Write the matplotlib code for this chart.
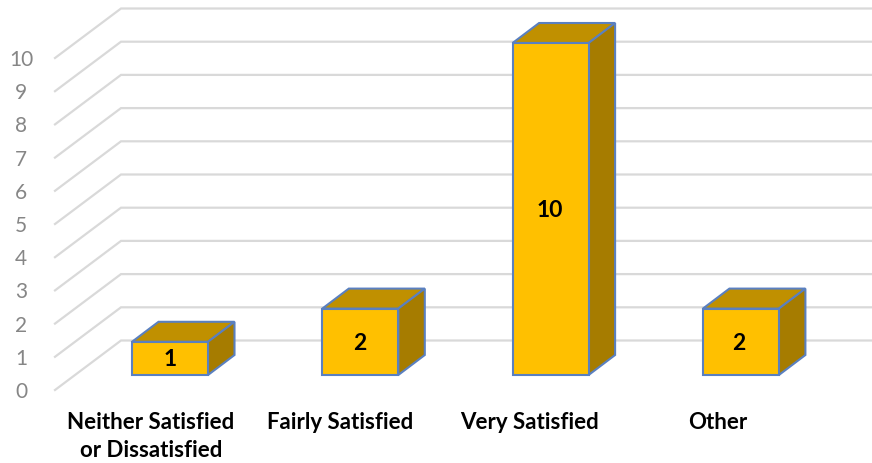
import matplotlib.pyplot as plt

plt.rcParams['font.family'] = ['Lato', 'DejaVu Sans']

categories = ['Neither Satisfied\nor Dissatisfied', 'Fairly Satisfied', 'Very Satisfied', 'Other']
values = [1, 2, 10, 2]
y_ticks = [0, 1, 2, 3, 4, 5, 6, 7, 8, 9, 10]

W, H = 872, 463
px_x = 190.3   # pixels per category
px_y = 33.2    # pixels per value unit
bar_w = 76 / px_x
depth_x = 26.5 / px_x
depth_y = 20 / px_y

fig = plt.figure(figsize=(W / 100, H / 100), dpi=100)
ax = fig.add_axes([0, 0, 1, 1])
ax.set_xlim(-170 / px_x, (W - 170) / px_x)
ax.set_ylim((375 - H) / px_y, 375 / px_y)
ax.axis('off')

# left wall + back wall gridlines
wall_left = -115 / px_x
wall_back = -49 / px_x
for v in y_ticks:
    ax.plot([wall_left, wall_back, (W - 170) / px_x], [v - 15 / px_y, v + 34.5 / px_y, v + 34.5 / px_y],
            color='#d9d9d9', lw=1.6, solid_joinstyle='miter', zorder=1)
    ax.text(-149 / px_x, v - 17 / px_y, str(v), color='#868686', fontsize=15,
            ha='center', va='center')

# bars
edge = '#5a80c0'
for i, v in enumerate(values):
    x0, x1 = i - bar_w / 2, i + bar_w / 2
    top = [(x0, v), (x1, v), (x1 + depth_x, v + depth_y), (x0 + depth_x, v + depth_y)]
    side = [(x1, 0), (x1 + depth_x, depth_y), (x1 + depth_x, v + depth_y), (x1, v)]
    front = [(x0, 0), (x1, 0), (x1, v), (x0, v)]
    for pts, col in [(top, '#c09000'), (side, '#a67c00'), (front, '#ffc000')]:
        ax.add_patch(plt.Polygon(pts, closed=True, facecolor=col, edgecolor=edge,
                                 lw=1.5, joinstyle='miter', zorder=3))
    ax.text(i - i * 0.6 / px_x, v / 2 - 1.5 / px_y, str(v), color='black', fontsize=16.5, fontweight='bold',
            ha='center', va='center', zorder=4)

# category labels
for i, c in enumerate(categories):
    ax.text(i * 189 / px_x - 19 / px_x, (375 - 412) / px_y, c, color='black', fontsize=16, fontweight='bold',
            ha='center', va='top', linespacing=1.4)

fig.savefig('out.png', dpi=100)
